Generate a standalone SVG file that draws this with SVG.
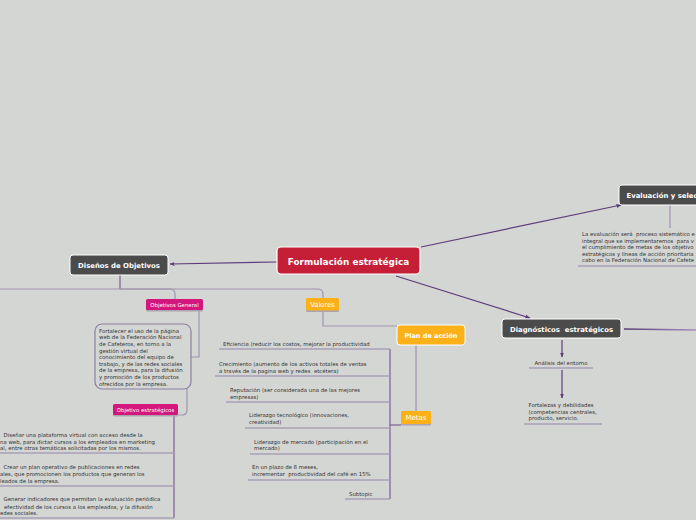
<svg xmlns="http://www.w3.org/2000/svg" width="696" height="520" viewBox="0 0 696 520">
<style>
.bg{fill:#d4d6d3}
.dark{fill:#4b4b4b;stroke:#ffffff;stroke-width:1}
.red{fill:#c51f37;stroke:#ffffff;stroke-width:1.2}
.mag{fill:#d3177d}
.org{fill:#fbb117}
.orgb{fill:#fbb117;stroke:#ffffff;stroke-width:1}
.shd{fill:#a9a4ad}
.tb{font-family:"DejaVu Sans",Verdana,sans-serif;font-weight:bold;fill:#ffffff;white-space:pre}
.tw{font-family:"DejaVu Sans",Verdana,sans-serif;fill:#ffffff}
.ts{font-family:"DejaVu Sans",Verdana,sans-serif;font-size:5.4px;fill:#333333;white-space:pre}
.main{fill:none;stroke:#5d3c7c;stroke-width:1.2}
.lt{fill:none;stroke:#a093b0;stroke-width:1.2}
.ul{fill:none;stroke:#aa9fb6;stroke-width:1.3}
.vd{fill:none;stroke:#7b5d94;stroke-width:1.2}
</style>
<defs>
<marker id="ah" viewBox="0 0 10 10" refX="9" refY="5" markerWidth="5" markerHeight="5" orient="auto" markerUnits="userSpaceOnUse">
<path d="M0,1 L10,5 L0,9 z" fill="#5d3c7c"/>
</marker>
<linearGradient id="gr" x1="0" y1="0" x2="1" y2="0">
<stop offset="0" stop-color="#5d3c7c"/>
<stop offset="1" stop-color="#a58fbf"/>
</linearGradient>
</defs>
<rect class="bg" x="0" y="0" width="696" height="520"/>

<g id="connectors">
<path class="main" d="M277,262 L170,264" marker-end="url(#ah)"/>
<path class="main" d="M421,247 L621,205" marker-end="url(#ah)"/>
<path class="main" d="M396,276 L530,318" marker-end="url(#ah)"/>
<path d="M624,329 L696,330" fill="none" stroke="url(#gr)" stroke-width="1.3"/>
<path class="main" d="M562,340 V357" marker-end="url(#ah)"/>
<path class="main" d="M562,370 V398" marker-end="url(#ah)"/>
<path class="lt" d="M670,205 V228"/>
<path class="vd" d="M120,275 V289"/>
<path class="lt" d="M0,289 H169 Q175,289 175,294 V299"/>
<path class="lt" d="M120,289 H317 Q323,289 323,294 V298"/>
<path class="lt" d="M199,310 V357 H191"/>
<path class="lt" d="M187,389 V410 Q187,415 182,415 H178"/>
<path class="vd" d="M174,415 V518"/>
<path class="lt" d="M323,311 V326 H397"/>
<path class="lt" d="M416,345 V411"/>
<path class="vd" d="M390,349 V499"/>
<path class="vd" d="M401,425 H390" stroke-width="1.5"/>
</g>

<g id="underlines">
<path class="ul" d="M578,266 H696"/>
<path class="ul" d="M529,368 H593"/>
<path class="ul" d="M524,424 H602"/>
<path class="ul" d="M0,453 H174"/>
<path class="ul" d="M0,486 H174"/>
<path class="ul" d="M0,518 H174"/>
<path class="ul" d="M219,349 H390"/>
<path class="ul" d="M215,376 H390"/>
<path class="ul" d="M226,402 H390"/>
<path class="ul" d="M245,428 H390"/>
<path class="ul" d="M250,454 H390"/>
<path class="ul" d="M248,480 H390"/>
<path class="ul" d="M345,499 H390"/>
</g>

<g id="n-formulacion">
<rect class="red" x="277" y="247" width="143" height="27" rx="4"/>
<text class="tb" x="348.5" y="264.5" font-size="8.9" text-anchor="middle">Formulación estratégica</text>
</g>

<g id="n-disenos">
<rect class="dark" x="70" y="255" width="98" height="20" rx="3"/>
<text class="tb" x="119" y="268" font-size="6.9" text-anchor="middle">Diseños de Objetivos</text>
</g>

<g id="n-evaluacion">
<rect class="dark" x="619" y="185" width="90" height="20" rx="3"/>
<text class="tb" x="626.5" y="198" font-size="6.9">Evaluación y selec</text>
</g>

<g id="n-evaluacion-text">
<text class="ts" x="582" y="235.5">La evaluación será  proceso sistemático e</text>
<text class="ts" x="582" y="242.5">integral que se implementaremos  para v</text>
<text class="ts" x="582" y="249">el cumplimiento de metas de los objetivo</text>
<text class="ts" x="582" y="255.5">estratégicos y líneas de acción prioritaria</text>
<text class="ts" x="582" y="262">cabo en la Federación Nacional de Cafete</text>
</g>

<g id="n-diagnosticos">
<rect class="dark" x="502" y="319" width="119" height="19" rx="3"/>
<text class="tb" x="561.5" y="331.5" font-size="6.9" text-anchor="middle">Diagnósticos  estratégicos</text>
</g>

<g id="n-analisis">
<text class="ts" x="561" y="365" text-anchor="middle">Análisis del entorno</text>
</g>

<g id="n-fortalezas">
<text class="ts" x="528.5" y="407">Fortalezas y debilidades</text>
<text class="ts" x="528.5" y="413.5">(competencias centrales,</text>
<text class="ts" x="528.5" y="420">producto, servicio.</text>
</g>

<g id="n-objetivos-general">
<rect class="shd" x="146" y="300.5" width="57" height="11" rx="1.5"/>
<rect class="mag" x="146" y="299" width="57" height="11" rx="1.5"/>
<text class="tw" x="174.5" y="306.5" font-size="5.4" text-anchor="middle">Objetivos General</text>
</g>

<g id="n-fortalecer">
<rect x="95" y="324" width="96" height="65" rx="7" fill="#d4d6d3" stroke="#8c7fa0" stroke-width="1.2"/>
<text class="ts" x="99" y="332.7">Fortalecer el uso de la página</text>
<text class="ts" x="99" y="339.3">web de la Federación Nacional</text>
<text class="ts" x="99" y="345.8">de Cafeteros, en torno a la</text>
<text class="ts" x="99" y="352.5">gestión virtual del</text>
<text class="ts" x="99" y="359.2">conocimiento del equipo de</text>
<text class="ts" x="99" y="365.8">trabajo, y de las redes sociales</text>
<text class="ts" x="99" y="372.4">de la empresa, para la difusión</text>
<text class="ts" x="99" y="379">y promoción de los productos</text>
<text class="ts" x="99" y="385.5">ofrecidos por la empresa.</text>
</g>

<g id="n-objetivo-estrategicos">
<rect class="shd" x="113" y="405.5" width="65" height="11" rx="1.5"/>
<rect class="mag" x="113" y="404" width="65" height="11" rx="1.5"/>
<text class="tw" x="145.5" y="411.5" font-size="5.4" text-anchor="middle">Objetivo estratégicos</text>
</g>

<g id="n-item1">
<text class="ts" x="3.5" y="436.5">Diseñar una plataforma virtual con acceso desde la</text>
<text class="ts" x="0" y="443.5">na web, para dictar cursos a los empleados en marketing</text>
<text class="ts" x="0" y="450">al, entre otras temáticas solicitadas por los mismos.</text>
</g>
<g id="n-item2">
<text class="ts" x="3.5" y="469">Crear un plan operativo de publicaciones en redes</text>
<text class="ts" x="0" y="476">ales, que promocionen los productos que generan los</text>
<text class="ts" x="0" y="482.5">leados de la empresa.</text>
</g>
<g id="n-item3">
<text class="ts" x="3.5" y="501">Generar indicadores que permitan la evaluación periódica</text>
<text class="ts" x="4" y="508.5">efectividad de los cursos a los empleados, y la difusión</text>
<text class="ts" x="0" y="515">edes sociales.</text>
</g>

<g id="n-valores">
<rect class="shd" x="306" y="299.5" width="33" height="12.5" rx="1.5"/>
<rect class="org" x="306" y="298" width="33" height="12.5" rx="1.5"/>
<text class="tw" x="322.5" y="306.8" font-size="6.8" text-anchor="middle">Valores</text>
</g>

<g id="n-plan">
<rect class="orgb" x="397" y="325" width="68" height="20" rx="3"/>
<text class="tb" x="431" y="337.5" font-size="6.5" text-anchor="middle">Plan de acción</text>
</g>

<g id="n-metas">
<rect class="shd" x="401" y="412.5" width="30" height="13" rx="1.5"/>
<rect class="org" x="401" y="411" width="30" height="13" rx="1.5"/>
<text class="tw" x="416" y="420.2" font-size="7" text-anchor="middle">Metas</text>
</g>

<g id="n-eficiencia">
<text class="ts" x="223" y="346">Eficiencia (reducir los costos, mejorar la productividad</text>
</g>
<g id="n-crecimiento">
<text class="ts" x="219" y="366">Crecimiento (aumento de los activos totales de ventas</text>
<text class="ts" x="219" y="372.5">a través de la pagina web y redes  etcétera)</text>
</g>
<g id="n-reputacion">
<text class="ts" x="230" y="392">Reputación (ser considerada una de las mejores</text>
<text class="ts" x="230" y="398.5">empresas)</text>
</g>
<g id="n-liderazgo-tec">
<text class="ts" x="249" y="417">Liderazgo tecnológico (innovaciones,</text>
<text class="ts" x="249" y="423.5">creatividad)</text>
</g>
<g id="n-liderazgo-mer">
<text class="ts" x="254" y="443.5">Liderazgo de mercado (participación en el</text>
<text class="ts" x="254" y="450">mercado)</text>
</g>
<g id="n-plazo">
<text class="ts" x="252" y="469">En un plazo de 8 meses,</text>
<text class="ts" x="252" y="475.5">incrementar  productividad del café en 15%</text>
</g>
<g id="n-subtopic">
<text class="ts" x="349" y="496">Subtopic</text>
</g>
</svg>
